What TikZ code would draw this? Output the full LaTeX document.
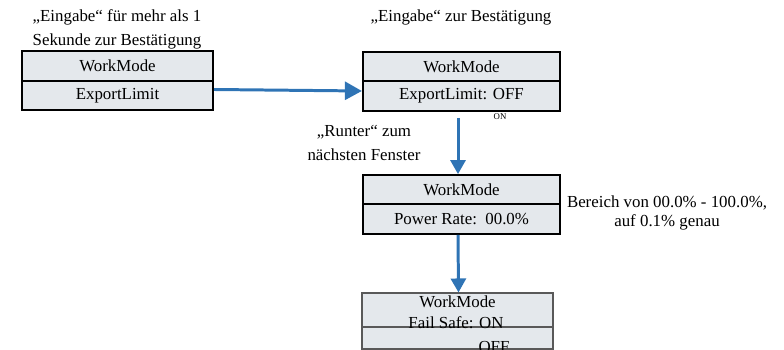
\documentclass[tikz,border=0pt]{standalone}
\usepackage{fontspec}
\setmainfont{Liberation Serif}
\usepackage{xcolor}
\usetikzlibrary{positioning, arrows.meta}
\definecolor{cellfill}{HTML}{E4E8EC}
\definecolor{flowblue}{HTML}{2F74B5}

\begin{document}
\begin{tikzpicture}[
  x=0.02cm, y=-0.02cm,
  font=\fontsize{9.6}{14}\selectfont,
  row/.style={draw, line width=1.3pt, fill=cellfill, minimum width=3.94cm,
              minimum height=0.59cm, inner sep=0pt},
  faint/.style={draw=black!65, line width=0.6pt, fill=cellfill,
              minimum width=3.82cm, inner sep=0pt},
  note/.style={align=center},
  arr/.style={-{Triangle[length=3.4mm,width=3.6mm]}, line width=1.7pt, flowblue},
  down/.style={-{Triangle[length=2.8mm,width=3mm]}, line width=1.7pt, flowblue}
]
\clip (0,0) rectangle (784,350);
% screen 1
\node[row, minimum width=3.82cm] (wm1) at (117.5,66) {WorkMode};
\node[row, minimum width=3.82cm] (el1) at (117.5,95.5) {ExportLimit};
\node[note] (hint1) at (117,29.5) {„Eingabe“ für mehr als 1\\Sekunde zur Bestätigung};
% screen 2
\node[row] (wm2) at (461.5,66.5) {WorkMode};
\node[row] (el2) at (461.5,96) {ExportLimit: OFF};
\node[note] (hint2) at (461,17) {„Eingabe“ zur Bestätigung};
\node[font=\fontsize{5}{6}\selectfont] (on2) at (500,117) {ON};
% screen 3
\node[row] (wm3) at (461.5,190) {WorkMode};
\node[row] (pr3) at (461.5,219) {Power Rate:\ \ 00.0\%};
\node[note] (hint3) at (364,143) {„Runter“ zum\\nächsten Fenster};
\node[note, font=\fontsize{9.6}{10.8}\selectfont] (range3) at (667,212.5) {Bereich von 00.0\% - 100.0\%,\\auf 0.1\% genau};
% screen 4 (half shown)
\node[faint, minimum height=0.68cm, text height=7pt, text depth=9.4pt] (wm4) at (457.5,310) {WorkMode};
\node[faint, minimum height=0.44cm] (fs4) at (457.5,338) {};
\node (fail4) at (456,322.5) {Fail Safe: ON};
\node (off4) at (494,347) {OFF};
% arrows
\draw[arr] ([yshift=0.12cm]el1.east) -- ([yshift=0.1cm]el2.west);
\draw[down, shorten <=0.12cm] ([xshift=-0.07cm]el2.south) -- ([xshift=-0.07cm]wm3.north);
\draw[down] ([xshift=-0.07cm]pr3.south) -- ([xshift=0.02cm]wm4.north);
\end{tikzpicture}
\end{document}
